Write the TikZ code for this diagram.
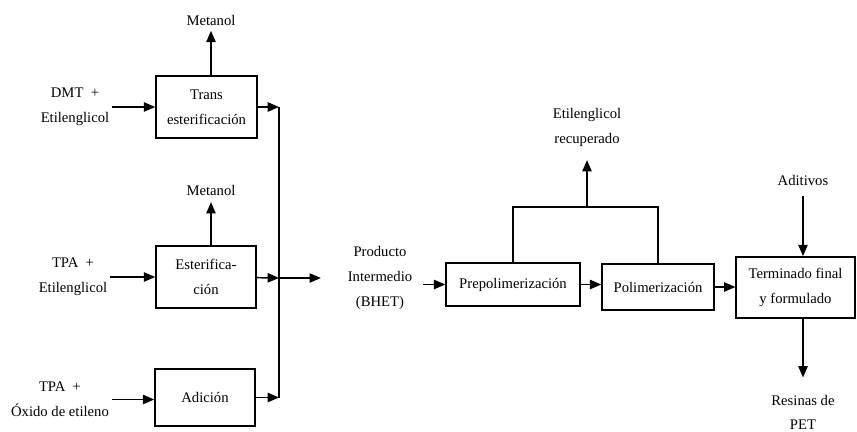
\documentclass[tikz,border=0pt]{standalone}
\usepackage{fontspec}
\setmainfont{Liberation Serif}
\usetikzlibrary{arrows.meta}

\tikzset{
	proc/.style={draw, line width=1.1pt, align=center, inner sep=1pt},
	lbl/.style={align=center, inner sep=2pt},
	flow/.style={line width=1.1pt, -{Triangle[length=8.5pt,width=7pt]}},
	pipe/.style={line width=1.1pt}
}

\begin{document}
\begin{tikzpicture}[x=0.75pt, y=-0.75pt, font=\fontsize{11}{18.5}\selectfont]
		%%%%% START %%%%%
		\useasboundingbox (0,0) rectangle (857,432);
		
		% left column
		\node[proc, minimum width=75.75pt, minimum height=46.5pt] (trans) at (206.5,107) {Trans\\esterificación};
		\node[proc, minimum width=75pt, minimum height=46.5pt] (ester) at (206,277) {Esterifica-\\ción};
		\node[proc, minimum width=75pt, minimum height=43pt] (adic) at (205,397.5) {Adición};
		
		\node[lbl] (in1) at (75,107) {DMT\ \ +\\Etilenglicol};
		\node[lbl] (in2) at (73,277) {TPA\ \ +\\Etilenglicol};
		\node[lbl] (in3) at (60,399.5) {TPA\ \ +\\Óxido de etileno};
		
		\node[lbl] (met1) at (211,20) {Metanol};
		\node[lbl] (met2) at (211,190) {Metanol};
		
		\draw[flow] (in1.east) -- (in1.east -| trans.west);
		\draw[flow] (in2.east) -- (in2.east -| ester.west);
		\draw[flow] (in3.east) -- (in3.east -| adic.west);
		
		\draw[flow, shorten >=2pt] (trans.north -| met1) -- (met1);
		\draw[flow, shorten >=3pt] (ester.north -| met2) -- (met2);
		
		\coordinate (bus) at (279,278);
		\draw[flow] (trans) -- (trans -| bus);
		\draw[flow] (ester) -- (bus);
		\draw[flow] (adic) -- (adic -| bus);
		\draw[pipe] (trans -| bus) -- (adic -| bus);
		
		% right part
		\node[lbl] (prod) at (380,278) {Producto\\Intermedio\\(BHET)};
		\draw[flow, shorten >=18pt] (bus) -- (prod);
		
		\node[proc, minimum width=100.5pt, minimum height=32pt] (prepol) at (513,284.5) {Prepolimerización};
		\node[proc, minimum width=84pt, minimum height=34.5pt] (polim) at (658,287) {Polimerización};
		\node[proc, minimum width=89pt, minimum height=46pt] (term) at (795.5,287.5) {Terminado final\\y formulado};
		
		\draw[flow, shorten <=6pt] (prod.east |- prepol) -- (prepol);
		\draw[flow] (prepol.east) -- (prepol.east -| polim.west);
		\draw[flow] (polim.east) -- (polim.east -| term.west);
		
		\node[lbl] (etil) at (587,127.5) {Etilenglicol\\recuperado};
		\coordinate (rec) at (587,207);
		\draw[pipe] (prepol.north) |- (rec) -| (polim.north);
		\draw[flow, shorten >=8pt] (rec) -- (etil);
		
		\node[lbl] (adit) at (803,180) {Aditivos};
		\draw[flow, shorten <=6pt] (adit) -- (adit |- term.north);
		
		\node[lbl] (res) at (803,412.5) {Resinas de\\PET};
		\draw[flow, shorten >=11pt] (term.south -| res) -- (res);
		
		%%%%% END %%%%%
\end{tikzpicture}
\end{document}
